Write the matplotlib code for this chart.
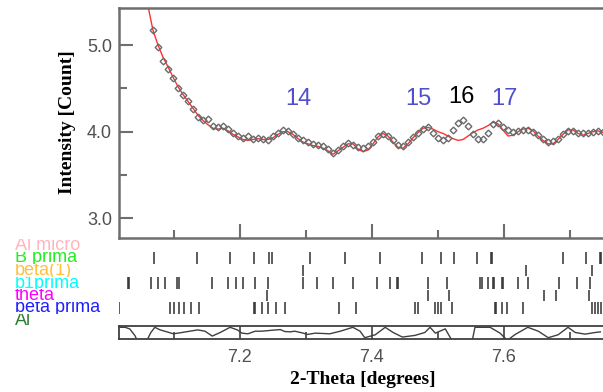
import numpy as np
import matplotlib
matplotlib.use("Agg")
import matplotlib.pyplot as plt
from matplotlib.ticker import MultipleLocator
from matplotlib.transforms import Bbox, TransformedBbox, blended_transform_factory

# step scan, 2-theta in degrees
step = 0.007576
obs_start = 7.0682
calc_start = 7.0606

obs_int = [5.17, 4.98, 4.82, 4.72, 4.62, 4.50, 4.42, 4.36, 4.26, 4.17,
           4.13, 4.15, 4.07, 4.06, 4.07, 4.03, 3.99, 3.95, 3.93, 3.95,
           3.92, 3.93, 3.92, 3.91, 3.95, 3.99, 4.02, 4.01, 3.97, 3.93,
           3.90, 3.88, 3.86, 3.85, 3.83, 3.80, 3.76, 3.79, 3.84, 3.87,
           3.85, 3.82, 3.81, 3.83, 3.88, 3.95, 3.97, 3.95, 3.90, 3.85,
           3.84, 3.88, 3.94, 3.99, 4.03, 4.06, 3.98, 3.93, 3.90, 3.93,
           4.02, 4.10, 4.13, 4.07, 3.97, 3.92, 3.92, 3.99, 4.09, 4.10,
           4.06, 4.02, 4.00, 4.01, 4.02, 4.02, 4.00, 3.96, 3.92, 3.88,
           3.89, 3.92, 3.97, 4.01, 4.01, 3.99, 3.98, 3.98, 4.00, 4.01,
           4.00]

calc_int = [5.45, 5.17, 5.00, 4.86, 4.75, 4.63, 4.52, 4.43, 4.35, 4.27,
            4.19, 4.13, 4.08, 4.04, 4.03, 4.04, 4.01, 3.97, 3.94, 3.91,
            3.90, 3.91, 3.92, 3.91, 3.91, 3.93, 3.97, 4.00, 4.00, 3.97,
            3.92, 3.88, 3.86, 3.84, 3.83, 3.81, 3.78, 3.74, 3.78, 3.82,
            3.86, 3.86, 3.80, 3.77, 3.79, 3.86, 3.94, 3.98, 3.95, 3.88,
            3.82, 3.81, 3.86, 3.93, 3.99, 4.04, 4.05, 4.03, 4.00, 3.98,
            3.95, 3.92, 3.90, 3.91, 3.95, 3.99, 4.02, 4.04, 4.07, 4.11,
            4.09, 4.02, 3.95, 3.96, 4.00, 4.03, 4.04, 4.01, 3.95, 3.90,
            3.86, 3.86, 3.91, 3.97, 4.02, 4.02, 3.98, 3.96, 3.98, 4.00,
            4.01, 3.99]

peak_labels = ['14', '15', '16', '17']
peak_pos = [7.288, 7.470, 7.535, 7.600]
peak_y = [4.38, 4.38, 4.40, 4.38]
peak_colors = ['#5050cc', '#5050cc', 'black', '#5050cc']

phase_names = ['Al micro', 'B prima', 'beta(1)', 'b1prima', 'theta', 'beta prima', 'Al']
phase_colors = ['#ffb6c1', '#22ee22', '#ffc040', '#00ffff', '#ff00ff', '#2020ff', '#2e7d32']
phase_ticks = [
    [],
    [7.070, 7.135, 7.185, 7.221, 7.244, 7.248, 7.306, 7.359, 7.412, 7.476,
     7.505, 7.524, 7.559, 7.580, 7.582, 7.689, 7.724, 7.745, 7.747],
    [7.295, 7.633, 7.733],
    [7.030, 7.032, 7.065, 7.076, 7.086, 7.105, 7.107, 7.158, 7.182, 7.194,
     7.205, 7.223, 7.242, 7.295, 7.317, 7.341, 7.371, 7.408, 7.427, 7.438,
     7.440, 7.485, 7.514, 7.564, 7.566, 7.576, 7.583, 7.585, 7.597, 7.599,
     7.621, 7.636, 7.683, 7.711, 7.730],
    [7.241, 7.485, 7.517, 7.661, 7.679, 7.729],
    [7.017, 7.094, 7.100, 7.108, 7.115, 7.126, 7.138, 7.221, 7.223, 7.233,
     7.242, 7.255, 7.268, 7.350, 7.376, 7.465, 7.470, 7.495, 7.500, 7.505,
     7.521, 7.586, 7.588, 7.597, 7.605, 7.629, 7.733, 7.738, 7.742, 7.747],
    [],
]

# residual, scaled to the strip (-1 .. 1)
diff_theta = [7.018, 7.026, 7.033, 7.041, 7.044, 7.059, 7.065, 7.071, 7.079, 7.086,
              7.099, 7.109, 7.124, 7.136, 7.147, 7.158, 7.170, 7.185, 7.196, 7.203,
              7.212, 7.223, 7.233, 7.249, 7.261, 7.268, 7.276, 7.283, 7.296, 7.302,
              7.314, 7.336, 7.352, 7.371, 7.382, 7.389, 7.405, 7.420, 7.432, 7.446,
              7.465, 7.480, 7.488, 7.496, 7.511, 7.521, 7.552, 7.556, 7.579, 7.594,
              7.605, 7.617, 7.636, 7.652, 7.667, 7.682, 7.697, 7.708, 7.723, 7.738,
              7.746]
diff_vals = [0.8, 0.8, 0.55, -0.5, -1.2, -1.2, 0.0, 0.8, 0.4, 0.2,
             -0.2, -0.05, 0.2, 0.4, 0.2, -0.55, 0.0, 0.8, 0.4, -0.1,
             -0.2, 0.2, 0.2, 0.35, 0.45, 0.15, 0.1, 0.2, -0.1, -0.3,
             -0.1, -0.2, 0.2, 0.8, 0.2, -0.8, -0.35, 0.8, 0.0, -0.7,
             -0.45, 0.0, 0.8, -0.1, 0.56, -1.2, -1.2, 0.8, 0.8, -0.1,
             -1.2, -0.3, 0.8, 0.2, -0.8, -0.35, 0.8, 0.0, -0.25, 0.0,
             0.1]

obs_theta = obs_start + step * np.arange(len(obs_int))
calc_theta = calc_start + step * np.arange(len(calc_int))
xmin, xmax = 7.0167, 7.75

W, H = 603, 392
fig = plt.figure(figsize=(W / 100, H / 100), dpi=100)
grey = '#6e6e6e'
tickfont = 'Liberation Sans'
serif = 'Liberation Serif'

# main pattern
ax = fig.add_axes([119 / W, 1 - 238 / H, 1 - 119 / W, 230 / H])
ax.plot(calc_theta, calc_int, color='#ff3030', lw=1.0, zorder=2)
ax.plot(obs_theta, obs_int, ls='none', marker='D', ms=3.4, mfc='none',
        mec='#6a6a6a', mew=1.0, zorder=3)
for lab, px, py, c in zip(peak_labels, peak_pos, peak_y, peak_colors):
    ax.text(px, py, lab, color=c, fontsize=17, family=tickfont, ha='center', va='center')
ax.set_xlim(xmin, xmax)
ax.set_ylim(2.774, 5.427)
ax.yaxis.set_major_locator(MultipleLocator(1.0))
ax.yaxis.set_minor_locator(MultipleLocator(0.5))
ax.xaxis.set_major_locator(MultipleLocator(0.2))
ax.xaxis.set_minor_locator(MultipleLocator(0.1))
ax.tick_params(which='both', direction='in', color=grey, width=1.5)
ax.tick_params(which='major', length=10, labelsize=13, labelcolor='#505050', pad=5)
ax.tick_params(which='minor', length=5.5)
ax.tick_params(axis='x', labelbottom=False)
ax.set_yticks([3.0, 4.0, 5.0])
ax.set_yticklabels(['3.0', '4.0', '5.0'], family=tickfont)
ax.spines['right'].set_visible(False)
for s in ['left', 'top', 'bottom']:
    ax.spines[s].set_color(grey)
    ax.spines[s].set_linewidth(1.8)

# reflection markers
axt = fig.add_axes([119 / W, 1 - 327 / H, 1 - 119 / W, 88 / H])
axt.set_xlim(xmin, xmax)
axt.set_ylim(6.52, -0.52)
axt.axis('off')
band_tr = blended_transform_factory(fig.transFigure, axt.transData)
for r, (name, col, ticks) in enumerate(zip(phase_names, phase_colors, phase_ticks)):
    if ticks:
        axt.vlines(ticks, r - 0.47, r + 0.47, color='#303030', lw=1.1)
    t = fig.text(15 / W, 0, name, color=col, fontsize=13, family=tickfont,
                 ha='left', va='center', transform=band_tr)
    t.set_y(r)
    t.set_clip_box(TransformedBbox(Bbox([[0, r - 0.5], [1, r + 0.5]]), band_tr))
    t.set_clip_on(True)

# difference strip
axd = fig.add_axes([119 / W, 1 - 339 / H, 1 - 119 / W, 13 / H])
axd.plot(diff_theta, diff_vals, color='#404040', lw=1.0)
axd.set_xlim(xmin, xmax)
axd.set_ylim(-1, 1)
axd.set_yticks([])
axd.xaxis.set_major_locator(MultipleLocator(0.2))
axd.xaxis.set_minor_locator(MultipleLocator(0.1))
axd.tick_params(which='both', direction='in', color='#404040', width=1.2)
axd.tick_params(which='major', length=9.4, labelsize=13, labelcolor='#505050', pad=7)
axd.tick_params(which='minor', length=5)
axd.set_xticks([7.2, 7.4, 7.6])
axd.set_xticklabels(['7.2', '7.4', '7.6'], family=tickfont)
axd.spines['right'].set_visible(False)
for s in ['left', 'top', 'bottom']:
    axd.spines[s].set_color('#404040')
    axd.spines[s].set_linewidth(1.3)

fig.text(68 / W, 1 - 122 / H, 'Intensity [Count]', rotation=90, ha='center', va='center',
         family=serif, fontweight='bold', fontsize=14)
fig.text(363 / W, 1 - 380 / H, '2-Theta [degrees]', ha='center', va='center',
         family=serif, fontweight='bold', fontsize=14)

fig.savefig('out.png', dpi=100)
